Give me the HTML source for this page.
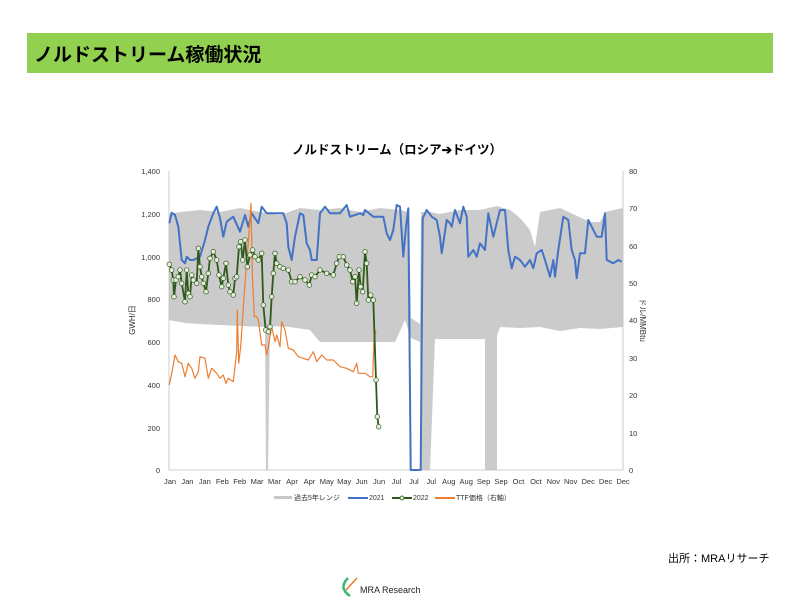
<!DOCTYPE html>
<html><head><meta charset="utf-8">
<style>
body{margin:0;width:800px;height:600px;background:#fff;overflow:hidden;font-family:"Liberation Sans","Noto Sans CJK JP",sans-serif;}
</style></head>
<body>
<svg id="s" width="800" height="600" xmlns="http://www.w3.org/2000/svg" style="position:absolute;left:0;top:0;font-family:'Liberation Sans','Noto Sans CJK JP',sans-serif">
<rect x="27" y="33" width="746" height="40" fill="#92d050"/>
<text x="34" y="61" font-size="19" font-weight="bold" fill="#000">ノルドストリーム稼働状況</text>
<text x="397" y="154" font-size="12.5" font-weight="bold" text-anchor="middle" fill="#000">ノルドストリーム（ロシア➔ドイツ）</text>
<g id="g"></g>
<g font-size="7.5" fill="#333" text-anchor="end">
<text x="160" y="174">1,400</text><text x="160" y="217">1,200</text><text x="160" y="260">1,000</text><text x="160" y="302">800</text><text x="160" y="345">600</text><text x="160" y="388">400</text><text x="160" y="431">200</text><text x="160" y="473">0</text>
</g>
<g font-size="7.5" fill="#333">
<text x="629" y="174">80</text><text x="629" y="211">70</text><text x="629" y="249">60</text><text x="629" y="286">50</text><text x="629" y="323">40</text><text x="629" y="361">30</text><text x="629" y="398">20</text><text x="629" y="436">10</text><text x="629" y="473">0</text>
</g>
<text transform="translate(135,320) rotate(-90)" font-size="8" text-anchor="middle" fill="#333">GWH/日</text>
<text transform="translate(640,320) rotate(90)" font-size="8" text-anchor="middle" fill="#333">ドル/MMBtu</text>
<g id="xl" font-size="7.5" fill="#333" text-anchor="middle"></g>
<g font-size="7" fill="#333">
<rect x="274" y="496" width="18" height="3" fill="#c8c8c8"/><text x="294" y="500">過去5年レンジ</text>
<rect x="348" y="497" width="20" height="2" fill="#4472c4"/><text x="369" y="500">2021</text>
<rect x="392" y="497" width="20" height="2" fill="#2f5a1b"/><circle cx="402" cy="498" r="2" fill="#e2efda" stroke="#2f5a1b" stroke-width="0.8"/><text x="413" y="500">2022</text>
<rect x="435" y="497" width="20" height="2" fill="#ed7d31"/><text x="456" y="500">TTF価格（右軸）</text>
</g>
<text x="668" y="562" font-size="11" fill="#000">出所：MRAリサーチ</text>
<path d="M348 578 Q338 588 350 596" stroke="#3cb371" stroke-width="2.5" fill="none"/>
<path d="M346 590 L357 578" stroke="#e08020" stroke-width="1.5"/>
<text x="360" y="593" font-size="9" fill="#222">MRA Research</text>
</svg>
<script>
var g=document.getElementById('g'),NS='http://www.w3.org/2000/svg';
function el(t,a){var e=document.createElementNS(NS,t);for(var k in a)e.setAttribute(k,a[k]);g.appendChild(e);return e;}
var up=[[169,214],[180,212],[200,210],[220,212],[240,208],[260,212],[280,215],[300,208],[320,210],[340,208],[360,212],[380,208],[400,210],[409,212],[411,318],[420,324],[421,212],[430,212],[440,214],[460,210],[480,210],[497,206],[510,210],[520,218],[530,230],[535,247],[540,212],[560,208],[575,215],[590,222],[600,222],[605,212],[623,208]];
var lo=[[623,327],[600,329],[580,328],[560,331],[540,327],[520,328],[500,327],[497,336],[497,470],[485,470],[485,339],[460,339],[445,339],[435,339],[430,470],[421,470],[420,342],[411,338],[405,320],[395,342],[350,342],[320,342],[310,330],[290,327],[270,326],[268,470],[266,470],[265,327],[240,326],[220,325],[200,324],[185,323],[169,320]];
el('path',{d:'M'+up.concat(lo).map(p=>p.join(',')).join(' L')+'Z',fill:'#cbcbcb'});
el('line',{x1:169,y1:171,x2:169,y2:470,stroke:'#bfbfbf','stroke-width':0.8});
el('line',{x1:169,y1:470,x2:623,y2:470,stroke:'#bfbfbf','stroke-width':0.8});
el('line',{x1:623,y1:171,x2:623,y2:470,stroke:'#bfbfbf','stroke-width':0.8});
function Z(a){return a.map(p=>[120+p[0]/3,160+p[1]/3]);}
function Z2(a){return a.map(p=>[400+p[0]/3,160+p[1]/3]);}
var blue=Z([[148,190],[155,158],[165,165],[175,200],[185,300],[195,310],[200,290],[210,300],[220,300],[240,290],[255,240],[265,200],[280,160],[290,140],[300,175],[310,230],[320,185],[340,170],[360,215],[375,165],[385,200],[395,160],[415,190],[425,140],[440,160],[490,160],[500,190],[505,260],[515,300],[525,230],[540,160],[550,165],[560,250],[570,270],[575,300],[590,300],[600,160],[615,140],[630,160],[660,160],[680,135],[690,170],[720,160],[730,165],[735,150],[760,170],[790,170],[800,220],[810,240],[820,210],[830,135],[840,140],[850,290],[858,200],[865,145]]).concat(Z2([[32,930],[62,930],[68,175],[80,150],[95,170],[110,180],[120,230],[125,280],[130,250],[140,180],[150,190],[155,200],[165,150],[180,190],[190,140],[200,170],[205,290],[220,270],[230,290],[240,250],[255,270],[265,160],[280,230],[300,150],[315,150],[325,270],[335,325],[345,290],[360,300],[375,320],[390,300],[400,325],[410,280],[425,270],[435,300],[450,350],[460,300],[465,350],[475,270],[490,170],[505,180],[515,270],[525,300],[530,355],[540,280],[555,280],[565,180],[575,200],[590,230],[605,230],[615,160],[620,300],[640,310],[655,300],[665,305]]));
var orange=Z([[148,675],[155,640],[165,585],[175,605],[185,610],[195,650],[205,610],[215,625],[225,655],[235,635],[240,590],[255,595],[265,655],[275,625],[290,640],[300,655],[310,645],[318,670],[325,655],[340,665],[350,575],[352,450],[356,610],[362,560],[368,470],[375,370],[382,285],[388,210],[393,130],[397,340],[403,470],[410,470],[415,480],[425,555],[435,555],[440,585],[445,560],[455,500],[465,545],[470,525],[480,560],[485,485],[495,510],[505,565],[520,570],[535,590],[550,595],[565,600],[580,575],[590,605],[605,585],[620,600],[640,600],[660,620],[680,625],[700,635],[710,610],[715,640],[735,640],[750,650],[758,650],[762,540],[768,510]]);
var green=Z([[148,313],[155,330],[160,360],[162,410],[168,360],[175,350],[180,330],[185,370],[195,425],[200,330],[205,400],[210,410],[215,345],[220,360],[230,370],[235,265],[240,320],[245,350],[250,370],[258,395],[265,340],[270,295],[280,275],[290,300],[297,345],[305,380],[310,355],[318,310],[325,375],[330,395],[340,405],[345,355],[350,350],[357,260],[362,245],[368,300],[375,240],[382,320],[390,285],[398,270],[405,290],[415,300],[425,280],[430,435],[437,510],[445,515],[450,500],[455,410],[460,340],[465,280],[470,310],[480,320],[490,325],[505,330],[515,365],[525,365],[540,350],[555,360],[568,375],[575,345],[585,350],[600,330],[620,340],[640,345],[650,310],[658,290],[670,290],[680,315],[690,330],[698,365],[705,350],[710,430],[717,330],[722,380],[728,395],[735,275],[740,310],[745,420],[752,405],[760,420],[768,660],[772,770],[776,800]]);
function pl(a,c,w){el('polyline',{points:a.map(p=>p.map(v=>v.toFixed(1)).join(',')).join(' '),fill:'none',stroke:c,'stroke-width':w,'stroke-linejoin':'round'});}
pl(blue,'#4472c4',2);
pl(orange,'#ed7d31',1.2);
pl(green,'#2f5a1b',1.8);
green.forEach(p=>el('circle',{cx:p[0].toFixed(1),cy:p[1].toFixed(1),r:2.3,fill:'#e2efda',stroke:'#2f5a1b','stroke-width':0.7}));
var ms='Jan Jan Jan Feb Feb Mar Mar Apr Apr May May Jun Jun Jul Jul Jul Aug Aug Sep Sep Oct Oct Nov Nov Dec Dec Dec'.split(' ');
var xl=document.getElementById('xl');
ms.forEach(function(m,i){var t=document.createElementNS(NS,'text');t.setAttribute('x',(170+i*(453/26)).toFixed(1));t.setAttribute('y',484);t.textContent=m;xl.appendChild(t);});
</script>
</body></html>
